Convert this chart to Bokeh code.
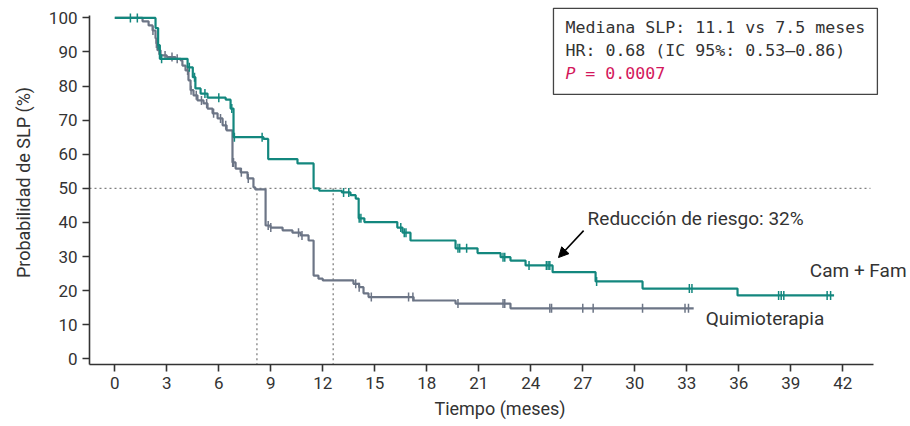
import numpy as np
from bokeh.plotting import figure
from bokeh.models import Range1d, FixedTicker, Label, Arrow, NormalHead, BoxAnnotation
from bokeh.embed import file_html
from bokeh.resources import INLINE

# ---------------- data ----------------
cam_t = [0, 2.35, 2.5, 2.6, 4.2, 4.5, 4.65, 4.95, 5.35, 6.4, 6.68, 6.85, 8.58, 8.85, 10.54,
         11.47, 11.8, 13.1, 13.6, 13.9, 14.07, 14.4, 16.3, 16.6, 17.06, 19.66, 20.93, 22.26,
         22.83, 23.7, 25.26, 27.74, 30.45, 35.93, 41.5]
cam_s = [100, 97, 92, 88, 85.5, 82.6, 79.3, 77.8, 76.6, 76.0, 73.4, 65.0, 64.5, 58.6, 57.3,
         50.0, 49.3, 48.8, 48.0, 47.0, 41.2, 40.1, 38.5, 37.0, 34.7, 32.4, 31.0, 29.8,
         28.8, 27.4, 25.4, 22.7, 20.6, 18.6, 18.6]
cam_cens = [0.9, 1.3, 2.5, 2.7, 4.3, 4.6, 5.2, 6.0, 6.75, 6.9, 8.5, 13.2, 13.5, 14.1, 14.2,
            16.5, 16.7, 16.8, 19.8, 19.9, 20.3, 22.4, 22.5, 23.9, 24.9, 25.0, 25.1, 27.8,
            33.15, 33.3, 38.3, 38.45, 38.6, 41.1, 41.3]

chemo_t = [0, 1.6, 1.95, 2.18, 2.35, 2.4, 2.46, 2.64, 3.0, 3.5, 3.8, 3.9, 4.08, 4.25, 4.37,
           4.54, 4.77, 5.12, 5.35, 5.64, 5.93, 6.22, 6.45, 6.79, 6.97, 7.26, 7.66, 8.0, 8.1,
           8.7, 8.98, 9.68, 10.25, 10.72, 11.18, 11.47, 11.75, 12.0, 13.77, 14.1, 14.35, 14.64,
           17.24, 19.66, 22.83, 33.4]
chemo_s = [100, 99, 97.8, 96.3, 94, 92.5, 90.5, 89, 88.5, 88, 87.5, 86, 84.6, 81.7, 78.8,
           77.3, 75.8, 74.9, 73.4, 72, 70.5, 68.5, 67, 57.6, 55.8, 54.7, 52.9, 50.3, 49.7,
           39.1, 38.5, 37.7, 37, 36.2, 34.7, 24.4, 23.5, 23, 22, 21, 19.2, 18.1,
           17.1, 16.2, 14.8, 14.8]
chemo_cens = [2.2, 2.4, 2.55, 2.9, 3.3, 3.6, 4.2, 4.4, 4.7, 5.0, 5.3, 5.7, 6.1, 6.4, 6.8,
              6.85, 7.3, 7.7, 8.85, 9.0, 10.6, 10.8, 13.9, 14.1, 14.8, 16.95, 17.2, 19.8,
              22.4, 22.5, 25.1, 25.2, 27.0, 27.6, 30.45, 32.9, 33.1]

median_level = 50
median_times = [8.2, 12.6]

x_ticks = list(range(0, 43, 3))
y_ticks = list(range(0, 101, 10))

TEAL = "#13877e"
GRAY = "#6c7586"
TXT = "#333333"


def surv_at(times, surv, pts):
    idx = np.searchsorted(np.array(times), np.array(pts), side="right") - 1
    return list(np.array(surv)[idx])


p = figure(width=910, height=426, x_range=Range1d(-1.46, 45.91), y_range=Range1d(-1.67, 105.1),
           output_backend="svg", toolbar_location=None,
           min_border_left=89, min_border_right=0, min_border_top=0, min_border_bottom=62)
p.xgrid.visible = False
p.ygrid.visible = False
p.outline_line_color = None
p.background_fill_color = "white"
p.border_fill_color = "white"

for ax in (p.xaxis[0], p.yaxis[0]):
    ax.major_tick_in = 0
    ax.major_tick_out = 7
    ax.minor_tick_in = 0
    ax.minor_tick_out = 0
    ax.axis_line_width = 1.6
    ax.axis_line_color = TXT
    ax.major_tick_line_width = 1.6
    ax.major_tick_line_color = TXT
    ax.major_label_text_font = "Roboto"
    ax.major_label_text_font_size = "17px"
    ax.major_label_text_color = TXT
    ax.axis_label_text_font = "Roboto"
    ax.axis_label_text_font_size = "18px"
    ax.axis_label_text_font_style = "normal"
    ax.axis_label_text_color = TXT

p.xaxis.ticker = FixedTicker(ticks=x_ticks)
p.yaxis.ticker = FixedTicker(ticks=y_ticks)
p.xaxis.bounds = (-1.46, 43.8)
p.yaxis.bounds = (-1.67, 100.7)
p.xaxis.axis_label = "Tiempo (meses)"
p.yaxis.axis_label = "Probabilidad de SLP (%)"
p.xaxis.major_label_standoff = 5
p.xaxis.axis_label_standoff = 6
p.yaxis.major_label_standoff = 5
p.yaxis.axis_label_standoff = 12

# median reference lines
xr0 = p.x_range.start
yr0 = p.y_range.start
p.segment(x0=[xr0], y0=[median_level], x1=[43.6], y1=[median_level],
          line_color="#808080", line_width=1.3, line_dash="2 3")
p.segment(x0=median_times, y0=[median_level] * len(median_times), x1=median_times,
          y1=[yr0] * len(median_times), line_color="#808080", line_width=1.3, line_dash="2 3")

# curves
p.step(x=chemo_t, y=chemo_s, mode="after", line_color=GRAY, line_width=2.2)
p.scatter(x=chemo_cens, y=surv_at(chemo_t, chemo_s, chemo_cens), marker="dash", angle=np.pi / 2,
          size=9, line_color=GRAY, line_width=1.5)
p.step(x=cam_t, y=cam_s, mode="after", line_color=TEAL, line_width=2.2)
p.scatter(x=cam_cens, y=surv_at(cam_t, cam_s, cam_cens), marker="dash", angle=np.pi / 2,
          size=9, line_color=TEAL, line_width=1.5)

# annotations
FS = "19px"
p.add_layout(Label(x=27.28, y=41.2, text="Reducción de riesgo: 32%", text_font="Roboto",
                   text_font_size=FS, text_baseline="middle", text_color=TXT))
p.add_layout(Arrow(end=NormalHead(size=10, fill_color="black", line_color="black"),
                   x_start=27.05, y_start=37.6, x_end=25.6, y_end=29.7,
                   line_color="black", line_width=1.5))
p.add_layout(Label(x=40.1, y=25.9, text="Cam + Fam", text_font="Roboto",
                   text_font_size=FS, text_baseline="middle", text_color=TXT))
p.add_layout(Label(x=34.09, y=11.8, text="Quimioterapia", text_font="Roboto",
                   text_font_size=FS, text_baseline="middle", text_color=TXT))

# stats box
p.add_layout(BoxAnnotation(left=25.31, right=44.0, bottom=77.55, top=102.8,
                           fill_color="white", fill_alpha=1, line_color="#444444",
                           line_width=1.3, line_alpha=1))
MONO = "DejaVu Sans Mono"
p.add_layout(Label(x=26.0, y=97.2, text="Mediana SLP: 11.1 vs 7.5 meses", text_font=MONO,
                   text_font_size="16.6px", text_baseline="middle", text_color=TXT))
p.add_layout(Label(x=26.0, y=90.5, text="HR: 0.68 (IC 95%: 0.53\u20130.86)", text_font=MONO,
                   text_font_size="16.6px", text_baseline="middle", text_color=TXT))
p.add_layout(Label(x=26.0, y=83.7, text="P", text_font=MONO, text_font_style="italic",
                   text_font_size="16.6px", text_baseline="middle", text_color="#d3185c"))
p.add_layout(Label(x=27.15, y=83.7, text="= 0.0007", text_font=MONO,
                   text_font_size="16.6px", text_baseline="middle", text_color="#d3185c"))

open("out.html", "w").write(file_html(p, INLINE))
